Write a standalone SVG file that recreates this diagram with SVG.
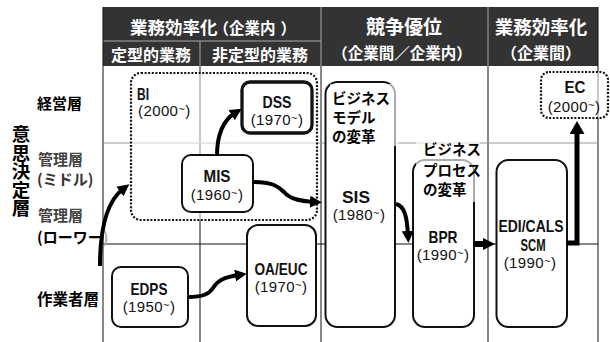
<svg xmlns="http://www.w3.org/2000/svg" width="610" height="342" viewBox="0 0 610 342">
<style>
.jp{font-family:"Noto Sans CJK JP","Noto Sans",sans-serif;font-weight:700}
.hw{fill:#fff}
.lb{font-family:"Liberation Sans",Arial,sans-serif;font-weight:700;font-size:17px;text-anchor:middle;fill:#111}
.yr{font-family:"Liberation Sans",Arial,sans-serif;font-size:15px;text-anchor:middle;fill:#111;letter-spacing:0.4px}
.tl{font-size:11px}
.box{fill:#fff;stroke:#111;stroke-width:2}
.thick{stroke-width:3.3}
.dot{fill:#fff;fill-opacity:.55;stroke:#111;stroke-width:2.2;stroke-dasharray:2 1.6}
.g{stroke:#111;stroke-width:1;fill:none}
.hs{stroke:#aaa;stroke-width:1}
.arr{fill:none;stroke:#000;stroke-width:4;marker-end:url(#ah)}
.veil{fill:#fff;fill-opacity:.65}
</style>
<defs>
<marker id="ah" viewBox="0 0 12 12" refX="4" refY="6" markerWidth="12" markerHeight="12" markerUnits="userSpaceOnUse" orient="auto"><path d="M0,0L12,6L0,12z" fill="#000"/></marker>
<marker id="ah2" viewBox="0 0 13 15" refX="4" refY="7.5" markerWidth="13" markerHeight="15" markerUnits="userSpaceOnUse" orient="auto"><path d="M0,0L13,7.5L0,15z" fill="#000"/></marker>
</defs>
<rect width="610" height="342" fill="#fff"/>
<g id="header">
<rect x="103" y="7" width="495" height="59" fill="#333"/>
<line class="hs" x1="103" y1="41" x2="321" y2="41"/>
<line class="hs" x1="200" y1="41" x2="200" y2="66"/>
<line class="hs" x1="321" y1="7" x2="321" y2="66"/>
<line class="hs" x1="488" y1="7" x2="488" y2="66"/>
<text class="jp hw" x="130" y="34" font-size="17.5">業務効率化<tspan font-size="15.5" dx="-4">（企業内<tspan dx="5">）</tspan></tspan></text>
<text class="jp hw" x="404" y="34" font-size="19" text-anchor="middle">競争優位</text>
<text class="jp hw" x="541" y="34" font-size="18.5" text-anchor="middle">業務効率化</text>
<text class="jp hw" x="111" y="61" font-size="16">定型的業務</text>
<text class="jp hw" x="212" y="61" font-size="16">非定型的業務</text>
<text class="jp hw" x="402" y="59" font-size="15.5" text-anchor="middle">（企業間／企業内）</text>
<text class="jp hw" x="541" y="59" font-size="16" text-anchor="middle">（企業間）</text>
</g>
<g id="grid">
<line class="g" x1="103" y1="7" x2="103" y2="342"/>
<line class="g" x1="200" y1="66" x2="200" y2="342"/>
<line class="g" x1="321" y1="66" x2="321" y2="342"/>
<line class="g" x1="488" y1="66" x2="488" y2="342"/>
<line class="g" x1="598" y1="7" x2="598" y2="342"/>
<line x1="103" y1="143" x2="598" y2="143" stroke="#999" stroke-width="1"/>
<line class="g" x1="103" y1="244" x2="598" y2="244"/>
</g>
<g id="rows">
<text class="jp" x="21" y="125" font-size="18.5" style="writing-mode:vertical-rl">意思決定層</text>
<text class="jp" x="37" y="109" font-size="15">経営層</text>
<text class="jp" x="38" y="165" font-size="15" fill="#444">管理層</text>
<text class="jp" x="37" y="185" font-size="15" fill="#333">(ミドル)</text>
<text class="jp" x="38" y="221" font-size="15" fill="#444">管理層</text>
<text class="jp" x="37" y="243" font-size="15">(ローワー<tspan fill="#aaa">)</tspan></text>
<text class="jp" x="37" y="305" font-size="15.5">作業者層</text>
</g>
<g id="bi">
<rect class="dot" x="131" y="73" width="186" height="147" rx="10"/>
<text class="lb" x="137" y="100" style="text-anchor:start" textLength="12" lengthAdjust="spacingAndGlyphs">BI</text>
<text class="yr" x="138" y="116" style="text-anchor:start">(2000<tspan class="tl" dy="-3.5">~</tspan><tspan dy="3.5">)</tspan></text>
</g>
<g id="ec">
<rect class="dot" x="541" y="72" width="67" height="46" rx="8"/>
<text class="lb" x="575" y="93" textLength="21" lengthAdjust="spacingAndGlyphs">EC</text>
<text class="yr" x="574" y="112">(2000<tspan class="tl" dy="-3.5">~</tspan><tspan dy="3.5">)</tspan></text>
</g>
<g id="dss">
<rect class="box thick" x="242" y="82" width="70" height="51" rx="8"/>
<text class="lb" x="277" y="108" textLength="29" lengthAdjust="spacingAndGlyphs">DSS</text>
<text class="yr" x="277" y="125">(1970<tspan class="tl" dy="-3.5">~</tspan><tspan dy="3.5">)</tspan></text>
</g>
<g id="mis">
<rect class="box" x="182" y="155" width="71" height="57" rx="9" stroke-width="3.6"/>
<text class="lb" x="217" y="182" textLength="27" lengthAdjust="spacingAndGlyphs">MIS</text>
<text class="yr" x="217" y="200">(1960<tspan class="tl" dy="-3.5">~</tspan><tspan dy="3.5">)</tspan></text>
</g>
<g id="edps">
<rect class="box" x="112" y="267" width="76" height="60" rx="9" stroke-width="3.6"/>
<text class="lb" x="149" y="295" textLength="37" lengthAdjust="spacingAndGlyphs">EDPS</text>
<text class="yr" x="149" y="312">(1950<tspan class="tl" dy="-3.5">~</tspan><tspan dy="3.5">)</tspan></text>
</g>
<g id="oa">
<rect class="box" x="247" y="225" width="69" height="101" rx="11"/>
<text class="lb" x="281" y="275" textLength="53" lengthAdjust="spacingAndGlyphs">OA/EUC</text>
<text class="yr" x="281" y="292">(1970<tspan class="tl" dy="-3.5">~</tspan><tspan dy="3.5">)</tspan></text>
</g>
<g id="sis">
<rect class="box" x="325.5" y="82" width="69.5" height="245" rx="12"/>
<rect class="veil" x="330" y="84" width="69" height="62"/>
<text class="jp" x="332" y="104" font-size="14.5">ビジネス</text>
<text class="jp" x="332" y="123" font-size="14.5">モデル</text>
<text class="jp" x="332" y="142" font-size="14.5">の変革</text>
<text class="lb" x="356" y="203" textLength="28" lengthAdjust="spacingAndGlyphs">SIS</text>
<text class="yr" x="359" y="220">(1980<tspan class="tl" dy="-3.5">~</tspan><tspan dy="3.5">)</tspan></text>
</g>
<g id="bpr">
<rect class="box" x="413" y="160" width="61" height="167" rx="12"/>
<rect class="veil" x="416" y="142" width="64" height="60"/>
<text class="jp" x="423" y="155" font-size="14.5">ビジネス</text>
<text class="jp" x="423" y="176" font-size="14.5">プロセス</text>
<text class="jp" x="423" y="195" font-size="14.5">の変革</text>
<text class="lb" x="443" y="243" textLength="29" lengthAdjust="spacingAndGlyphs">BPR</text>
<text class="yr" x="443" y="260">(1990<tspan class="tl" dy="-3.5">~</tspan><tspan dy="3.5">)</tspan></text>
</g>
<g id="edi">
<rect class="box" x="496.5" y="160" width="70.5" height="167" rx="12"/>
<text class="lb" x="531" y="232" textLength="65" lengthAdjust="spacingAndGlyphs">EDI/CALS</text>
<text class="lb" x="533" y="251" textLength="25" lengthAdjust="spacingAndGlyphs">SCM</text>
<text class="yr" x="530" y="268">(1990<tspan class="tl" dy="-3.5">~</tspan><tspan dy="3.5">)</tspan></text>
</g>
<g id="connectors">
<path class="arr" d="M100,266 C100,230 106,202 123,189"/>
<path class="arr" d="M217,156 C217,135 222,121 235,113"/>
<path class="arr" d="M253,182 C272,182 278,186 284,192 C290,199 300,201 314,202"/>
<path class="arr" d="M188,297 C203,297 209,294 213,288 C218,280 225,277 239,275"/>
<path class="arr" d="M396,204 C405,206 407,218 408,235"/>
<path d="M474,244 L487,244" fill="none" stroke="#000" stroke-width="6" marker-end="url(#ah)"/>
<path d="M567,243 L577,243 L577,130" fill="none" stroke="#000" stroke-width="5" stroke-linejoin="miter" marker-end="url(#ah2)"/>
</g>
</svg>
